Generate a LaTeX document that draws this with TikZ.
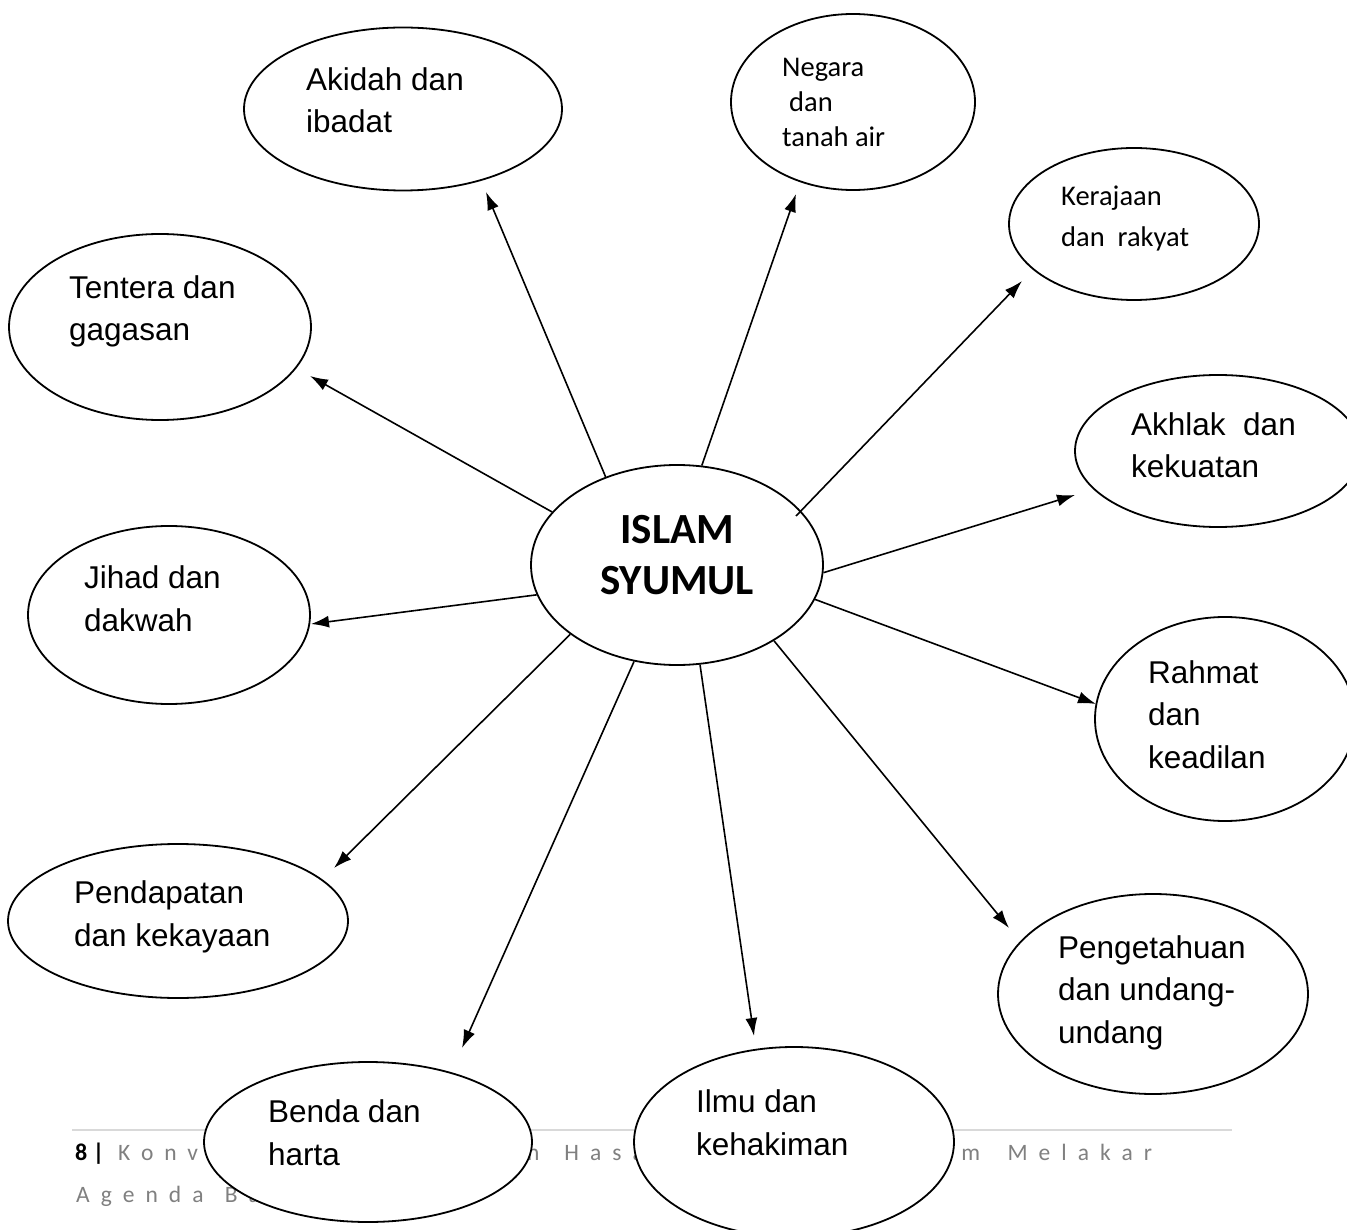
\documentclass[tikz,border=0pt]{standalone}
\usepackage{fontspec}
\setmainfont{Liberation Sans}
\newfontfamily\calfont{Carlito}
\newfontfamily\calspfont{Carlito}[LetterSpace=47]
\usetikzlibrary{arrows.meta,shapes.geometric}
\definecolor{footgray}{HTML}{808080}
\definecolor{rulegray}{HTML}{D9D9D9}
\begin{document}
\begin{tikzpicture}[x=1pt,y=-1pt,
  bubble/.style={draw=black, line width=1.8pt, fill=white, ellipse, inner sep=0pt},
  lbl/.style={font=\fontsize{31.5}{42.5}\selectfont, align=left, inner sep=0pt, anchor=base west},
  lblc/.style={font=\calfont\fontsize{28.5}{35}\selectfont, align=left, inner sep=0pt, anchor=base west},
  conn/.style={line width=1.6pt, -{Latex[length=18pt,width=12pt]}},
  foot/.style={inner sep=0pt, anchor=base west, align=left}]
\useasboundingbox (0,0) rectangle (1347,1230);
\fill[white] (0,0) rectangle (1347,1230);
\clip (0,0) rectangle (1347,1230);

% footer
\draw[rulegray, line width=2pt] (72,1130) -- (1232,1130);
\node[foot, font=\calfont\bfseries\fontsize{24}{42}\selectfont] (pg) at (75,1160) {8 |};
\node[foot, text=footgray, font=\calspfont\fontsize{23.5}{42}\selectfont] (ft1) at (118,1160) {Konvensyen\hspace{8.5pt} Pemikiran\hspace{8.5pt} Hasan\hspace{8pt} al-Banna\hspace{8pt} dalam\hspace{11pt} Melakar};
\node[foot, text=footgray, font=\calspfont\fontsize{23.5}{42}\selectfont] (ft2) at (76,1202) {Agenda\hspace{5pt} Baru};

% ellipses
\node[bubble, minimum width=318pt, minimum height=163pt] (akidah) at (403,109) {};
\node[bubble, minimum width=244pt, minimum height=176pt] (negara) at (853,102) {};
\node[bubble, minimum width=250pt, minimum height=152pt] (kerajaan) at (1134,224) {};
\node[bubble, minimum width=302pt, minimum height=186pt] (tentera) at (160,327) {};
\node[bubble, minimum width=286pt, minimum height=152pt] (akhlak) at (1218,451) {};
\node[bubble, minimum width=292pt, minimum height=200pt] (c) at (677,565) {};
\node[bubble, minimum width=282pt, minimum height=178pt] (jihad) at (169,615) {};
\node[bubble, minimum width=260pt, minimum height=204pt] (rahmat) at (1225,719) {};
\node[bubble, minimum width=340pt, minimum height=154pt] (pendap) at (178,921) {};
\node[bubble, minimum width=310pt, minimum height=200pt] (penget) at (1153,994) {};
\node[bubble, minimum width=328pt, minimum height=160pt] (benda) at (368,1142) {};
\node[bubble, minimum width=320pt, minimum height=190pt] (ilmu) at (794,1142) {};

% texts (anchor = baseline of the last line)
\node[lbl] (xAkidah) at (306,133) {Akidah dan\\ibadat};
\node[lblc] (xNegara) at (782,147) {Negara\\\hspace*{7pt}dan\\tanah air};
\node[lblc, font=\calfont\fontsize{28.5}{41}\selectfont] (xKerajaan) at (1061,247) {Kerajaan\\dan\ \ rakyat};
\node[lbl] (xTentera) at (69,341) {Tentera dan\\gagasan};
\node[lbl] (xAkhlak) at (1131,478) {Akhlak\ \ dan\\kekuatan};
\node[inner sep=0pt, anchor=base, align=center, font=\calfont\bfseries\fontsize{43}{51}\selectfont] (xIslam) at (677,594) {ISLAM\\SYUMUL};
\node[lbl] (xJihad) at (84,631) {Jihad dan\\dakwah};
\node[lbl] (xRahmat) at (1148,768) {Rahmat\\dan\\keadilan};
\node[lbl] (xPendap) at (74,946) {Pendapatan\\dan kekayaan};
\node[lbl] (xPenget) at (1058,1043) {Pengetahuan\\dan undang-\\undang};
\node[lbl] (xBenda) at (268,1165) {Benda dan\\harta};
\node[lbl] (xIlmu) at (696,1155) {Ilmu dan\\kehakiman};

% arrow tips
\coordinate (tAkidah) at (486,192);
\coordinate (tTentera) at (310,376);
\coordinate (tJihad) at (311,624);
\coordinate (tNegara) at (796,194);
\coordinate (tKerajaan) at (1022,281);
\coordinate (tAkhlak) at (1075,495);
\coordinate (tRahmat) at (1096,704);
\coordinate (tPenget) at (1009,928);
\coordinate (tIlmu) at (754,1036);
\coordinate (tBenda) at (462,1048);
\coordinate (tPendap) at (334,868);

% connectors
\draw[conn] (c.129.2) -- (tAkidah);
\draw[conn] (c.157.7) -- (tTentera);
\draw[conn] (c.192.5) -- (tJihad);
\draw[conn] (c.76.8) -- (tNegara);
\draw[conn] ([shift={(119,-49)}]c.center) -- (tKerajaan);
\draw[conn] (c.357.7) -- (tAkhlak);
\draw[conn] (c.346.7) -- (tRahmat);
\draw[conn] (c.322.9) -- (tPenget);
\draw[conn] (c.283.5) -- (tIlmu);
\draw[conn] (c.246.7) -- (tBenda);
\draw[conn] (c.213.1) -- (tPendap);
\end{tikzpicture}
\end{document}
